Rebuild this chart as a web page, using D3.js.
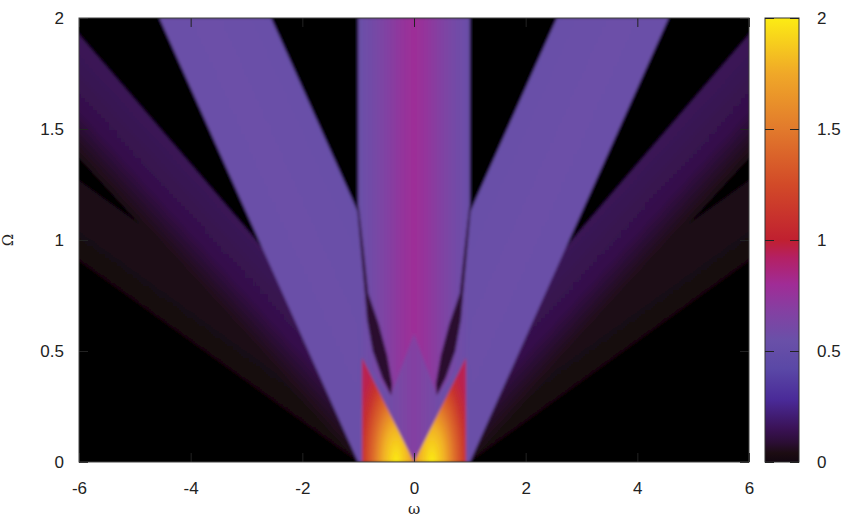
<!DOCTYPE html>
<html>
<head>
<meta charset="utf-8">
<script src="https://cdn.jsdelivr.net/npm/d3@7"></script>
<style>
body { margin: 0; background: #fff; }
text { font-family: "Liberation Sans", Arial, Helvetica, sans-serif; }
</style>
</head>
<body>
<svg id="viz"></svg>
<script>
var width = 843;
var height = 520;
var plotLeft = 79, plotRight = 749, plotTop = 18, plotBottom = 462;
var boxLeft = 765, boxRight = 799;

// axes
var omegaDomain = [-6, 6];
var OmegaDomain = [0, 2];
var omegaTicks = [-6, -4, -2, 0, 2, 4, 6];
var OmegaTicks = [0, 0.5, 1, 1.5, 2];
var cbDomain = [0, 2];
var cbTicks = [0, 0.5, 1, 1.5, 2];

// palette
var paletteValues = [0, 0.04, 0.09, 0.15, 0.28, 0.42, 0.55, 0.68, 0.8, 0.92, 1.0, 1.25, 1.5, 1.75, 2.0];
var paletteColors = ["#120610", "#1c0c12", "#2c0e36", "#3a1256", "#4a2a98", "#5a48a6", "#6a50a8", "#8440a2",
                     "#a02c96", "#b42064", "#c02030", "#d24a28", "#e27a2c", "#f0a828", "#fcec14"];

// side bands on the left (right ones are mirrored): edges given by omega at Omega = 0 and Omega = 2
var bandOuterFoot = [-1, -1, -1];
var bandOuterTop = [-12.05, -8.3, -4.56];
var bandInnerFoot = [1, 0.6, 1];
var bandInnerTop = [-10.05, -6.26, -2.56];
// values across each band, outer edge -> inner edge
var bandStops = [0, 0.45, 1];
var bandValues = [[0.0, 0.035, 0.045], [0.04, 0.13, 0.15], [0.55, 0.56, 0.53]];

// central band |omega| < 1, value across omega
var centreOmega = [-1, -0.8, -0.5, -0.2, 0, 0.2, 0.5, 0.8, 1];
var centreValues = [0.55, 0.58, 0.66, 0.75, 0.79, 0.75, 0.66, 0.58, 0.55];

// V notch between the two bright lobes, closed on top by an inverted V
var notchCorners = [[0, 0], [-0.93, 0.47], [-0.41, 0.30], [0, 0.58], [0.41, 0.30], [0.93, 0.47]];
var notchOmega = [-0.93, -0.5, 0, 0.5, 0.93];
var notchValues = [0.55, 0.57, 0.68, 0.57, 0.55];

// bright lobe left of omega = 0 (right one is its mirror)
var lobeCorners = [[-0.93, 0], [0, 0], [-0.93, 0.47]];
var lobeCentre = [-0.32, 0];
var lobeRadius = [0.75, 0.52];
var lobeStops = [0, 0.3, 0.55, 0.8, 1];
var lobeValues = [2.0, 1.78, 1.42, 1.1, 0.95];

// dark seam + tear drop between left side band and centre (mirrored on the right)
var seamPoints = [[-1.02, 1.15], [-0.95, 0.95], [-0.88, 0.76], [-0.84, 0.64], [-0.74, 0.50], [-0.57, 0.38],
                  [-0.41, 0.30], [-0.39, 0.35], [-0.48, 0.48], [-0.63, 0.62], [-0.82, 0.76], [-0.90, 0.95], [-0.99, 1.15]];
var seamValue = 0.08;

var x = d3.scaleLinear().domain(omegaDomain).range([plotLeft, plotRight]);
var y = d3.scaleLinear().domain(OmegaDomain).range([plotBottom, plotTop]);
var cb = d3.scaleLinear().domain(cbDomain).range([plotBottom, plotTop]);
var color = d3.scaleLinear().domain(paletteValues).range(paletteColors).clamp(true);

var svg = d3.select("#viz").attr("width", width).attr("height", height);
var defs = svg.append("defs");

defs.append("clipPath").attr("id", "plotClip").append("rect")
    .attr("x", plotLeft).attr("y", plotTop)
    .attr("width", plotRight - plotLeft).attr("height", plotBottom - plotTop);

defs.append("filter").attr("id", "soft")
    .append("feGaussianBlur").attr("stdDeviation", 1.4);

function path(pts) {
    return "M" + pts.map(function(p) { return x(p[0]) + "," + y(p[1]); }).join("L") + "Z";
}

function linGrad(id, x1, y1, x2, y2, offsets, values) {
    var g = defs.append("linearGradient").attr("id", id)
        .attr("gradientUnits", "userSpaceOnUse")
        .attr("x1", x1).attr("y1", y1).attr("x2", x2).attr("y2", y2);
    offsets.forEach(function(o, i) {
        g.append("stop").attr("offset", o).attr("stop-color", color(values[i]));
    });
    return "url(#" + id + ")";
}

var map = svg.append("g").attr("clip-path", "url(#plotClip)")
    .append("g").attr("filter", "url(#soft)");

map.append("rect")
    .attr("x", plotLeft - 20).attr("y", plotTop - 20)
    .attr("width", plotRight - plotLeft + 40).attr("height", plotBottom - plotTop + 40)
    .attr("fill", "#000");

// side bands, outermost first
bandOuterFoot.forEach(function(f, i) {
    [1, -1].forEach(function(s) {
        // s = 1 left band, s = -1 mirrored right band
        var of = s * f, ot = s * bandOuterTop[i], inf = s * bandInnerFoot[i], it = s * bandInnerTop[i];
        var pts = [[of, 0], [inf, 0], [it, 2], [ot, 2]];
        var dx = x(ot) - x(of), dy = y(2) - y(0);
        var len = Math.sqrt(dx * dx + dy * dy);
        var nx = -dy / len, ny = dx / len;
        var ox = x((of + ot) / 2), oy = y(1);
        var proj = (x((inf + it) / 2) - ox) * nx;
        var fill = linGrad("band" + i + (s > 0 ? "L" : "R"), ox, oy, ox + nx * proj, oy + ny * proj,
            bandStops, bandValues[i]);
        map.append("path").attr("d", path(pts)).attr("fill", fill);
    });
});

// central band
map.append("path")
    .attr("d", path([[-1, 0], [1, 0], [1, 2], [-1, 2]]))
    .attr("fill", linGrad("centre", x(-1), 0, x(1), 0,
        centreOmega.map(function(w) { return (w + 1) / 2; }), centreValues));

// V notch
var nLo = notchOmega[0], nHi = notchOmega[notchOmega.length - 1];
map.append("path")
    .attr("d", path(notchCorners))
    .attr("fill", linGrad("notch", x(nLo), 0, x(nHi), 0,
        notchOmega.map(function(w) { return (w - nLo) / (nHi - nLo); }), notchValues));

// bright lobes
[-1, 1].forEach(function(side) {
    var id = "lobe" + (side < 0 ? "L" : "R");
    var cx = x(-side * lobeCentre[0]), cy = y(lobeCentre[1]);
    var g = defs.append("radialGradient").attr("id", id)
        .attr("gradientUnits", "userSpaceOnUse")
        .attr("cx", 0).attr("cy", 0).attr("r", 1)
        .attr("gradientTransform", "translate(" + cx + "," + cy + ") scale(" +
            (x(lobeRadius[0]) - x(0)) + "," + (y(0) - y(lobeRadius[1])) + ")");
    lobeStops.forEach(function(o, i) {
        g.append("stop").attr("offset", o).attr("stop-color", color(lobeValues[i]));
    });
    map.append("path")
        .attr("d", path(lobeCorners.map(function(p) { return [-side * p[0], p[1]]; })))
        .attr("fill", "url(#" + id + ")");
});

// dark seams
[-1, 1].forEach(function(side) {
    map.append("path")
        .attr("d", path(seamPoints.map(function(p) { return [-side * p[0], p[1]]; })))
        .attr("fill", color(seamValue));
});

// axes, gnuplot style: ticks inside and mirrored
var fmt = function(d) { return String(d); };
function styleAxis(g) {
    g.select(".domain").remove();
    g.selectAll(".tick line").attr("stroke", "#222");
    g.selectAll(".tick text").attr("fill", "#222").style("font-size", "17px");
}

svg.append("g").attr("transform", "translate(0," + plotBottom + ")")
    .call(d3.axisBottom(x).tickValues(omegaTicks).tickSize(-9).tickPadding(20).tickFormat(fmt))
    .call(styleAxis);
svg.append("g").attr("transform", "translate(0," + plotTop + ")")
    .call(d3.axisTop(x).tickValues(omegaTicks).tickSize(-9).tickFormat(""))
    .call(styleAxis);
svg.append("g").attr("transform", "translate(" + plotLeft + ",0)")
    .call(d3.axisLeft(y).tickValues(OmegaTicks).tickSize(-9).tickPadding(15).tickFormat(fmt))
    .call(styleAxis);
svg.append("g").attr("transform", "translate(" + plotRight + ",0)")
    .call(d3.axisRight(y).tickValues(OmegaTicks).tickSize(-9).tickFormat(""))
    .call(styleAxis);

svg.append("rect")
    .attr("x", plotLeft).attr("y", plotTop)
    .attr("width", plotRight - plotLeft).attr("height", plotBottom - plotTop)
    .attr("fill", "none").attr("stroke", "#444").attr("stroke-width", 1);

// colour box
var cbGrad = defs.append("linearGradient").attr("id", "cbGrad")
    .attr("gradientUnits", "userSpaceOnUse")
    .attr("x1", 0).attr("y1", cb(cbDomain[0])).attr("x2", 0).attr("y2", cb(cbDomain[1]));
paletteValues.forEach(function(v, i) {
    cbGrad.append("stop").attr("offset", (v - cbDomain[0]) / (cbDomain[1] - cbDomain[0]))
        .attr("stop-color", paletteColors[i]);
});

svg.append("rect")
    .attr("x", boxLeft).attr("y", plotTop)
    .attr("width", boxRight - boxLeft).attr("height", plotBottom - plotTop)
    .attr("fill", "url(#cbGrad)").attr("stroke", "#333").attr("stroke-width", 1);

svg.append("g").attr("transform", "translate(" + boxRight + ",0)")
    .call(d3.axisRight(cb).tickValues(cbTicks).tickSize(-9).tickPadding(18).tickFormat(fmt))
    .call(styleAxis);
svg.append("g").attr("transform", "translate(" + boxLeft + ",0)")
    .call(d3.axisLeft(cb).tickValues(cbTicks).tickSize(-9).tickFormat(""))
    .call(styleAxis);

// axis titles
svg.append("text")
    .attr("transform", "translate(13," + ((plotTop + plotBottom) / 2) + ") rotate(-90)")
    .attr("text-anchor", "middle")
    .style("font-family", "'DejaVu Serif', 'Liberation Serif', serif")
    .style("font-size", "15px").attr("fill", "#222")
    .text("Ω");

svg.append("text")
    .attr("x", x(0)).attr("y", 514)
    .attr("text-anchor", "middle")
    .style("font-family", "'DejaVu Serif', 'Liberation Serif', serif")
    .style("font-size", "15px").attr("fill", "#222")
    .text("ω");
</script>
</body>
</html>
